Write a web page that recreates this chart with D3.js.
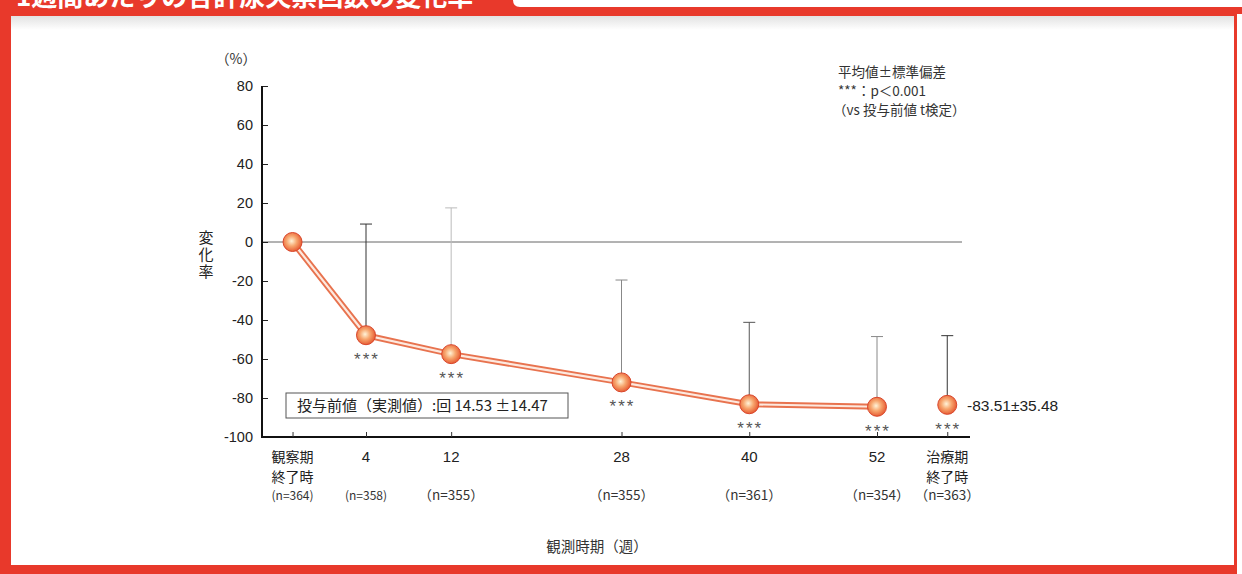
<!DOCTYPE html>
<html><head><meta charset="utf-8">
<script src="https://cdn.jsdelivr.net/npm/d3@7"></script>
<style>
body{margin:0;background:#fff;}
svg{display:block;font-family:"Noto Sans CJK JP","Noto Sans",sans-serif;}
</style></head>
<body>
<svg id="c" width="1242" height="574"></svg>
<script>
// ---- data ----
const categories = [["観察期","終了時"],["4"],["12"],["28"],["40"],["52"],["治療期","終了時"]];
const nLabels = ["(n=364)","(n=358)","（n=355）","（n=355）","（n=361）","（n=354）","（n=363）"];
const xWeeks = [-2.9, 4, 12, 28, 40, 52, 58.6]; // position on the week axis
const means = [0, -47.8, -57.5, -72, -83.2, -84.5, -83.51];
const sds = [null, 57, 75, 52.5, 42, 36, 35.48];
const errColors = [null, "#333", "#bbb", "#888", "#555", "#888", "#333"];
const stars = [false, true, true, true, true, true, true];
const yTicks = [80, 60, 40, 20, 0, -20, -40, -60, -80, -100];
const titleText = "1週間あたりの合計尿失禁回数の変化率";
const legendLines = ["平均値±標準偏差", "***：p＜0.001", "（vs 投与前値 t検定）"];
const boxText = "投与前値（実測値）:回 14.53 ±14.47";
const endLabel = "-83.51±35.48";

const svg = d3.select("#c");
const W = 1242, H = 574;

// ---- frame ----
const red = "#e8392b";
svg.append("rect").attr("x",0).attr("y",0).attr("width",W).attr("height",H).attr("fill",red);
svg.append("rect").attr("x",1237).attr("y",14).attr("width",5).attr("height",H-14).attr("fill","#fff");
svg.append("rect").attr("x",11).attr("y",16).attr("width",1223).attr("height",549).attr("fill","#fff");
const defs = svg.append("defs");
const lg = defs.append("linearGradient").attr("id","topfade").attr("x1",0).attr("y1",0).attr("x2",0).attr("y2",1);
lg.append("stop").attr("offset","0%").attr("stop-color","#e2e2e2");
lg.append("stop").attr("offset","100%").attr("stop-color","#fff");
svg.append("rect").attr("x",11).attr("y",16).attr("width",1223).attr("height",14).attr("fill","url(#topfade)");
// white tab at top right
svg.append("path").attr("d","M513,0 L1242,0 L1242,7 L520,7 Q513,7 513,0 Z").attr("fill","#fff");
// clipped title
svg.append("text").attr("x",16).attr("y",6).attr("fill","#fff")
  .attr("font-size",26).attr("font-weight","bold").text(titleText);

// ---- scales ----
const x = d3.scaleLinear().domain([4,52]).range([366,877]);
const y = d3.scaleLinear().domain([80,-100]).range([86,437]);
const x0 = 262, xEnd = 970;

// zero reference line
svg.append("line").attr("x1",x0).attr("x2",962).attr("y1",y(0)).attr("y2",y(0))
  .attr("stroke","#666").attr("stroke-width",1);

// y axis
const yAxis = d3.axisRight(y).tickValues(yTicks).tickSize(6).tickFormat("");
const gy = svg.append("g").attr("transform",`translate(${x0},0)`).call(yAxis);
gy.select(".domain").remove();
gy.selectAll(".tick line").attr("stroke","#222").attr("stroke-width",1);
svg.append("line").attr("x1",x0).attr("x2",x0).attr("y1",y(80)).attr("y2",y(-100)+1)
  .attr("stroke","#111").attr("stroke-width",2);
svg.selectAll(".ytl").data(yTicks).join("text").attr("class","ytl")
  .attr("x",253).attr("y",d=>y(d)+5).attr("text-anchor","end")
  .attr("font-size",14.5).attr("fill","#222").attr("font-family","Liberation Sans, Arial, sans-serif")
  .text(d=>d);
svg.append("text").attr("x",236).attr("y",64).attr("text-anchor","middle")
  .attr("font-size",14).attr("fill","#333").text("（%）");
svg.append("text").attr("x",206).attr("y",230).attr("writing-mode","tb")
  .attr("letter-spacing",2).attr("font-size",15).attr("fill","#222").text("変化率");

// x axis
svg.append("line").attr("x1",x0).attr("x2",xEnd).attr("y1",y(-100)).attr("y2",y(-100))
  .attr("stroke","#111").attr("stroke-width",2);
const xAxis = d3.axisTop(x).tickValues(xWeeks).tickSize(5).tickFormat("");
const gx = svg.append("g").attr("transform",`translate(0,${y(-100)})`).call(xAxis);
gx.select(".domain").remove();
gx.selectAll(".tick line").attr("stroke","#333");

categories.forEach((c,i)=>{
  const cx = x(xWeeks[i]);
  const t = svg.append("text").attr("x",cx).attr("y",462)
    .attr("text-anchor","middle").attr("fill","#222");
  if (c.length > 1) {
    t.attr("font-size",14);
    c.forEach((l,j)=>t.append("tspan").attr("x",cx).attr("dy",j?19.5:0).text(l));
  } else {
    t.attr("font-size",15).attr("font-family","Liberation Sans, Arial, sans-serif").text(c[0]);
  }
  svg.append("text").attr("x",cx).attr("y",500).attr("text-anchor","middle")
    .attr("font-size",i<2?12:13.5).attr("fill","#333").text(nLabels[i]);
});
svg.append("text").attr("x",597).attr("y",552).attr("text-anchor","middle")
  .attr("font-size",14.5).attr("fill","#333").text("観測時期（週）");

// error bars
means.forEach((m,i)=>{
  if(sds[i]==null) return;
  const cx = x(xWeeks[i]), top = y(m+sds[i]);
  svg.append("line").attr("x1",cx).attr("x2",cx).attr("y1",y(m)).attr("y2",top)
    .attr("stroke",errColors[i]).attr("stroke-width",1);
  svg.append("line").attr("x1",cx-6).attr("x2",cx+6).attr("y1",top).attr("y2",top)
    .attr("stroke",errColors[i]).attr("stroke-width",1);
});

// double line (first 6 points)
const lineData = means.slice(0,6).map((m,i)=>[x(xWeeks[i]),y(m)]);
const lineGen = d3.line();
svg.append("path").attr("d",lineGen(lineData)).attr("fill","none")
  .attr("stroke","#e8734f").attr("stroke-width",6);
svg.append("path").attr("d",lineGen(lineData)).attr("fill","none")
  .attr("stroke","#fde9df").attr("stroke-width",2.2);

// markers
const rg = defs.append("radialGradient").attr("id","ball").attr("cx","45%").attr("cy","45%").attr("r","60%");
rg.append("stop").attr("offset","0%").attr("stop-color","#fff3d8");
rg.append("stop").attr("offset","45%").attr("stop-color","#f7a66e");
rg.append("stop").attr("offset","100%").attr("stop-color","#e4502a");
svg.selectAll(".pt").data(means).join("circle").attr("class","pt")
  .attr("cx",(d,i)=>x(xWeeks[i])).attr("cy",d=>y(d)).attr("r",9.5)
  .attr("fill","url(#ball)").attr("stroke","#d9452a").attr("stroke-width",1);

// stars
means.forEach((m,i)=>{
  if(!stars[i]) return;
  svg.append("text").attr("x",x(xWeeks[i])+1).attr("y",y(m)+30).attr("text-anchor","middle")
    .attr("font-size",17).attr("letter-spacing",2).attr("fill","#555")
    .attr("font-family","Liberation Sans, Arial, sans-serif").text("***");
});

// end label
svg.append("text").attr("x",967).attr("y",y(means[6])+6).attr("font-size",15.5)
  .attr("fill","#222").attr("font-family","Liberation Sans, Arial, sans-serif").text(endLabel);

// annotation box
svg.append("rect").attr("x",286).attr("y",393).attr("width",282).attr("height",25)
  .attr("fill","#fff").attr("stroke","#555").attr("stroke-width",1);
svg.append("text").attr("x",297).attr("y",411).attr("font-size",15).attr("fill","#222").text(boxText);

// legend
legendLines.forEach((l,i)=>{
  svg.append("text").attr("x",i===2?833:838).attr("y",77+i*19).attr("font-size",13.5).attr("fill","#333").text(l);
});
</script>
</body></html>
